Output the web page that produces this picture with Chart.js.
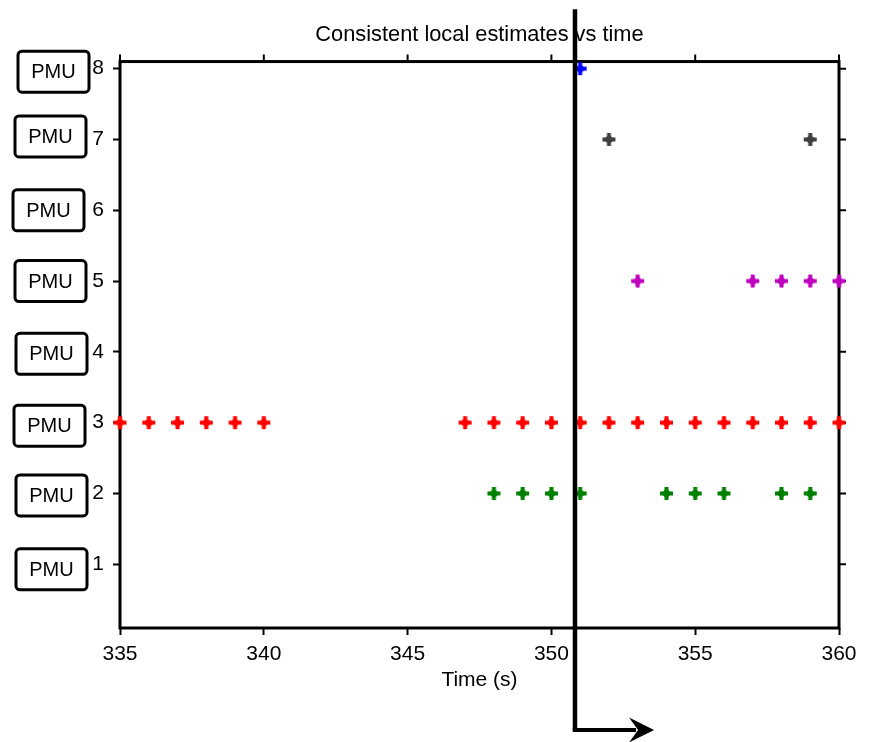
<!DOCTYPE html>
<html>
<head>
<meta charset="utf-8">
<script src="https://cdn.jsdelivr.net/npm/chart.js@4"></script>
<style>
  html, body { margin: 0; padding: 0; background: #fff; }
  #wrap { width: 870px; height: 742px; }
</style>
</head>
<body>
<div id="wrap"><canvas id="chart"></canvas></div>
<script>
let xTicks = [335, 340, 345, 350, 355, 360];
let yTicks = [1, 2, 3, 4, 5, 6, 7, 8];
let boxText = 'PMU';

let pmu2Times = [348, 349, 350, 351, 354, 355, 356, 358, 359];
let pmu3Times = [335, 336, 337, 338, 339, 340, 347, 348, 349, 350, 351, 352, 353, 354, 355, 356, 357, 358, 359, 360];
let pmu5Times = [353, 357, 358, 359, 360];
let pmu7Times = [352, 359];
let pmu8Times = [351];

// time of the thick marker line, and where it starts/ends on the y scale
let markerTime = 350.82;
let markerTop = 8.84;
let markerBottom = -1.34;
let arrowEnd = 353.57;

let font = "'Liberation Sans', Arial, Helvetica, sans-serif";

// hand-placed label boxes (they wobble a little in the original)
let boxLeft = [16, 16, 14, 16, 15, 13, 15, 18];
let boxShift = [5, 2, 3, 2, 0, 0, -3, 3];

let series = [
  { pmu: 2, times: pmu2Times, color: '#008000' },
  { pmu: 3, times: pmu3Times, color: '#ff0000' },
  { pmu: 5, times: pmu5Times, color: '#bf00bf' },
  { pmu: 7, times: pmu7Times, color: '#404040' },
  { pmu: 8, times: pmu8Times, color: '#0000ff' },
];

// fat plus marker, like the matlab one
let makeMarker = (color) => {
  let c = document.createElement('canvas');
  c.width = 15;
  c.height = 15;
  let g = c.getContext('2d');
  g.fillStyle = color;
  g.fillRect(5.5, 1, 4, 13);
  g.fillRect(1, 5.5, 13, 4);
  g.beginPath();
  g.moveTo(7.5, 2.3); g.lineTo(12.7, 7.5); g.lineTo(7.5, 12.7); g.lineTo(2.3, 7.5);
  g.closePath();
  g.fill();
  return c;
};

let framePlugin = {
  id: 'frame',
  beforeDatasetsDraw(chart) {
    let { ctx, chartArea: a, scales: { x, y } } = chart;
    ctx.save();
    ctx.strokeStyle = '#000';
    ctx.lineWidth = 3;
    ctx.strokeRect(a.left, a.top, a.right - a.left, a.bottom - a.top);

    ctx.lineWidth = 2;
    ctx.beginPath();
    xTicks.forEach(v => {
      let px = x.getPixelForValue(v);
      ctx.moveTo(px, a.top);
      ctx.lineTo(px, a.top - 7);
    });
    yTicks.forEach(v => {
      let py = y.getPixelForValue(v);
      ctx.moveTo(a.right, py);
      ctx.lineTo(a.right + 7, py);
    });
    ctx.stroke();

    ctx.lineWidth = 3;
    ctx.font = '20px ' + font;
    ctx.fillStyle = '#000';
    ctx.textAlign = 'center';
    ctx.textBaseline = 'middle';
    yTicks.forEach((v, i) => {
      let cy = y.getPixelForValue(v) + boxShift[i];
      let left = boxLeft[i];
      ctx.beginPath();
      ctx.roundRect(left, cy - 20.5, 71, 41, 4);
      ctx.stroke();
      ctx.fillText(boxText, left + 35.5, cy + 1);
    });
    ctx.restore();
  },
  afterDraw(chart) {
    let { ctx, scales: { x, y } } = chart;
    let mx = x.getPixelForValue(markerTime);
    let top = y.getPixelForValue(markerTop);
    let bottom = y.getPixelForValue(markerBottom);
    let end = x.getPixelForValue(arrowEnd);
    ctx.save();
    ctx.strokeStyle = '#000';
    ctx.fillStyle = '#000';
    ctx.lineWidth = 4.5;
    ctx.beginPath();
    ctx.moveTo(mx, top);
    ctx.lineTo(mx, bottom);
    ctx.stroke();
    ctx.lineWidth = 4;
    ctx.beginPath();
    ctx.moveTo(mx - 2.25, bottom);
    ctx.lineTo(end - 18, bottom);
    ctx.stroke();
    ctx.beginPath();
    ctx.moveTo(end, bottom);
    ctx.lineTo(end - 25, bottom - 12.5);
    ctx.lineTo(end - 16, bottom);
    ctx.lineTo(end - 25, bottom + 12.5);
    ctx.closePath();
    ctx.fill();
    ctx.restore();
  }
};

let chart = new Chart(document.getElementById('chart'), {
  type: 'scatter',
  data: {
    datasets: series.map(s => ({
      label: 'PMU ' + s.pmu,
      data: s.times.map(t => ({ x: t, y: s.pmu })),
      pointStyle: makeMarker(s.color),
      borderColor: s.color,
      backgroundColor: s.color,
      clip: false,
    })),
  },
  options: {
    responsive: true,
    maintainAspectRatio: false,
    animation: false,
    layout: { padding: { left: 0, right: 31, top: 0, bottom: 0 } },
    plugins: {
      legend: { display: false },
      tooltip: { enabled: false },
      title: {
        display: true,
        text: 'Consistent local estimates vs time',
        fullSize: false,
        color: '#000',
        font: { family: font, size: 21.8, weight: 'normal' },
        padding: { top: 22, bottom: 13.4 },
      },
    },
    scales: {
      x: {
        type: 'linear',
        min: 335,
        max: 360,
        afterBuildTicks: (scale) => { scale.ticks = xTicks.map(v => ({ value: v })); },
        afterFit: (scale) => { scale.height = 114; },
        border: { display: false },
        grid: { drawOnChartArea: false, tickLength: 7, tickWidth: 2, tickColor: '#000' },
        ticks: { color: '#000', padding: 6.4, font: { family: font, size: 21 } },
        title: {
          display: true,
          text: 'Time (s)',
          color: '#000',
          font: { family: font, size: 21 },
          padding: { top: 49, bottom: 49 },
        },
      },
      y: {
        type: 'linear',
        min: 0.1,
        max: 8.1,
        afterBuildTicks: (scale) => { scale.ticks = yTicks.map(v => ({ value: v })); },
        afterFit: (scale) => { scale.width = 120; },
        border: { display: false },
        grid: { drawOnChartArea: false, tickLength: 7, tickWidth: 2, tickColor: '#000' },
        ticks: { color: '#000', padding: 9, font: { family: font, size: 21 } },
      },
    },
  },
  plugins: [framePlugin],
});
</script>
</body>
</html>
